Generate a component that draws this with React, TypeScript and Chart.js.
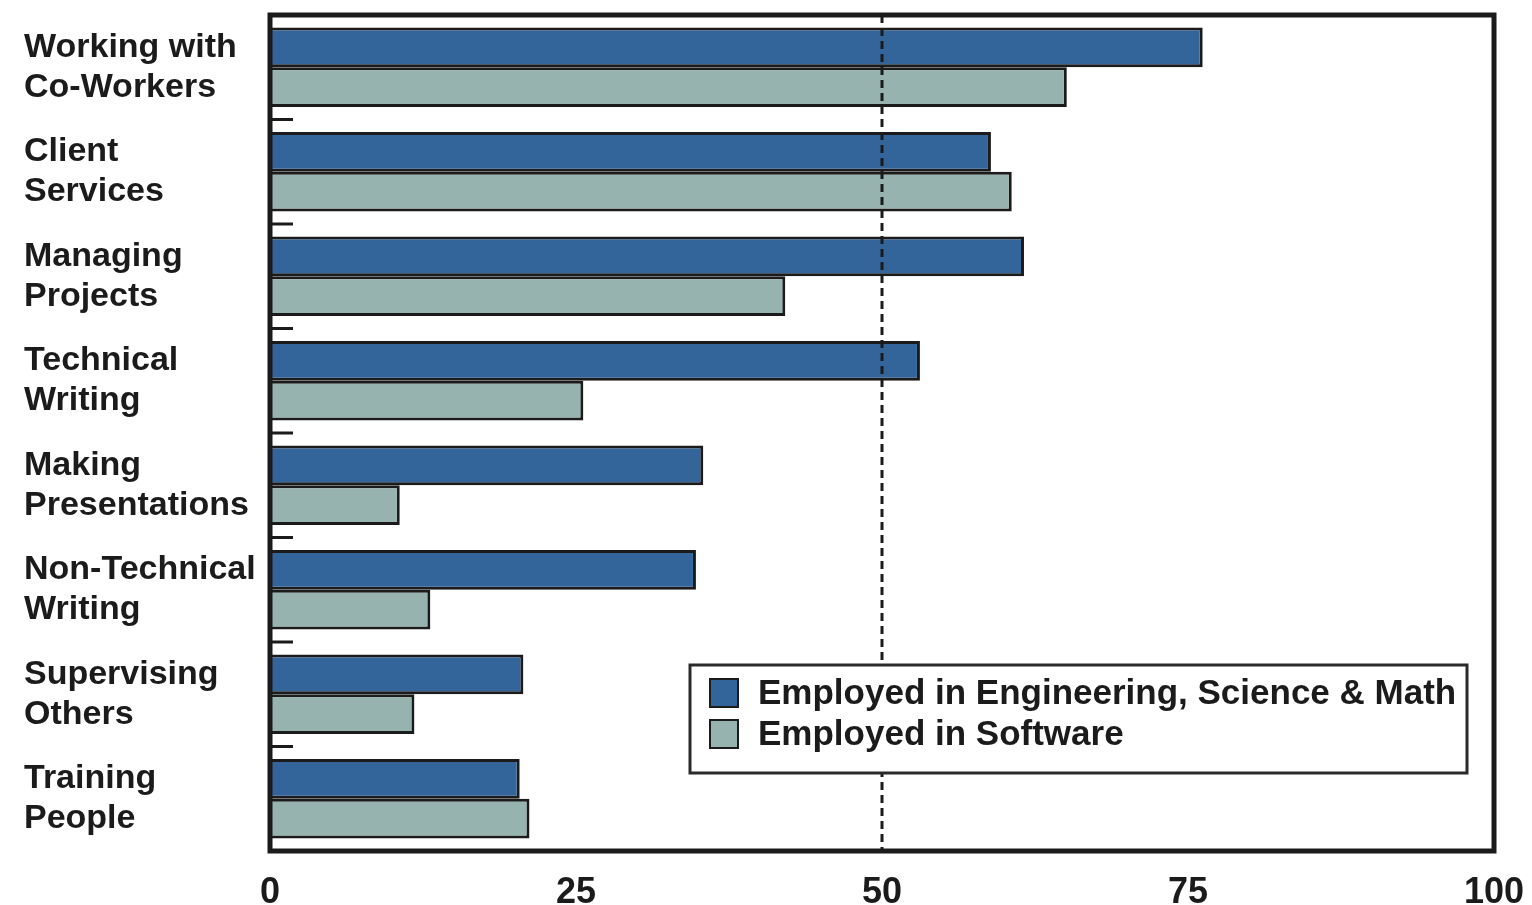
import React, { useEffect, useRef } from "react";
import { Chart, registerables } from "chart.js";

Chart.register(...registerables);

const categories: string[][] = [
  ["Working with", "Co-Workers"],
  ["Client", "Services"],
  ["Managing", "Projects"],
  ["Technical", "Writing"],
  ["Making", "Presentations"],
  ["Non-Technical", "Writing"],
  ["Supervising", "Others"],
  ["Training", "People"],
];
const engSciMath = [76.2, 58.9, 61.6, 53.1, 35.4, 34.8, 20.7, 20.4];
const software = [65.1, 60.6, 42.1, 25.6, 10.6, 13.1, 11.8, 21.2];
const xTickValues = [0, 25, 50, 75, 100];
const referenceValue = 50;
const seriesLabels = ["Employed in Engineering, Science & Math", "Employed in Software"];
const seriesColors = ["#34659a", "#97b3af"];

const FONT = "'Liberation Sans', Arial, sans-serif";
const INK = "#1b1b1b";

const decorPlugin = {
  id: "decor",
  afterDatasetsDraw(chart: any) {
    const { ctx, chartArea } = chart;
    const { left, right, top, bottom } = chartArea;
    const x = chart.scales.x;
    const y = chart.scales.y;
    ctx.save();

    // inner category ticks
    ctx.strokeStyle = INK;
    ctx.lineWidth = 3;
    const n = y.ticks.length;
    for (let i = 1; i < n; i++) {
      const py = (y.getPixelForValue(i - 1) + y.getPixelForValue(i)) / 2;
      ctx.beginPath();
      ctx.moveTo(left, py);
      ctx.lineTo(left + 23, py);
      ctx.stroke();
    }

    // dashed reference line
    const rx = x.getPixelForValue(referenceValue);
    ctx.setLineDash([8, 5]);
    ctx.lineWidth = 3;
    ctx.beginPath();
    ctx.moveTo(rx, top);
    ctx.lineTo(rx, bottom);
    ctx.stroke();
    ctx.setLineDash([]);

    // frame
    ctx.lineWidth = 5;
    ctx.strokeStyle = INK;
    ctx.strokeRect(left, top, right - left, bottom - top);

    // legend
    const lw = 777;
    const lh = 108;
    const lx = right - 27 - lw;
    const ly = bottom - 78 - lh;
    ctx.fillStyle = "#ffffff";
    ctx.fillRect(lx, ly, lw, lh);
    ctx.lineWidth = 3;
    ctx.strokeStyle = "#2a2a2a";
    ctx.strokeRect(lx, ly, lw, lh);
    ctx.font = `bold 35px ${FONT}`;
    ctx.textBaseline = "middle";
    ctx.textAlign = "left";
    chart.data.datasets.forEach((ds: any, i: number) => {
      const cy = ly + 28 + i * 41;
      ctx.fillStyle = ds.backgroundColor;
      ctx.fillRect(lx + 20, cy - 14, 28, 28);
      ctx.lineWidth = 2;
      ctx.strokeStyle = INK;
      ctx.strokeRect(lx + 20, cy - 14, 28, 28);
      ctx.fillStyle = INK;
      ctx.fillText(ds.label, lx + 68, cy + 1);
    });

    ctx.restore();
  },
};

export default function App() {
  const canvasRef = useRef<HTMLCanvasElement | null>(null);

  useEffect(() => {
    if (!canvasRef.current) return;
    const chart = new Chart(canvasRef.current, {
      type: "bar",
      data: {
        labels: categories,
        datasets: [
          {
            label: seriesLabels[0],
            data: engSciMath,
            backgroundColor: seriesColors[0],
            borderColor: INK,
            borderWidth: 3,
            categoryPercentage: 0.76,
            barPercentage: 1,
          },
          {
            label: seriesLabels[1],
            data: software,
            backgroundColor: seriesColors[1],
            borderColor: INK,
            borderWidth: 3,
            categoryPercentage: 0.76,
            barPercentage: 1,
          },
        ],
      },
      options: {
        indexAxis: "y",
        animation: false,
        responsive: true,
        maintainAspectRatio: false,
        layout: { padding: { left: 24, right: 38, top: 15, bottom: 0 } },
        plugins: {
          legend: { display: false },
          tooltip: { enabled: false },
          title: { display: false },
        },
        scales: {
          x: {
            type: "linear",
            min: 0,
            max: 100,
            afterBuildTicks: (scale: any) => {
              scale.ticks = xTickValues.map((v) => ({ value: v }));
            },
            afterFit: (scale: any) => {
              scale.height = 54;
              scale.paddingLeft = 0;
              scale.paddingRight = 0;
            },
            grid: { display: false, drawTicks: false },
            border: { display: false },
            ticks: {
              color: INK,
              padding: 20,
              maxRotation: 0,
              font: { family: FONT, size: 36, weight: "bold" },
            },
          },
          y: {
            type: "category",
            afterFit: (scale: any) => {
              scale.width = 246;
              scale.paddingTop = 0;
              scale.paddingBottom = 0;
            },
            grid: { display: false, drawTicks: false },
            border: { display: false },
            ticks: {
              color: INK,
              crossAlign: "far",
              font: { family: FONT, size: 34, weight: "bold", lineHeight: 1.18 },
            },
          },
        },
      } as any,
      plugins: [decorPlugin],
    });
    return () => chart.destroy();
  }, []);

  return (
    <div style={{ position: "absolute", left: 0, top: 0, width: 1532, height: 905, background: "#fff" }}>
      <canvas ref={canvasRef} />
    </div>
  );
}
